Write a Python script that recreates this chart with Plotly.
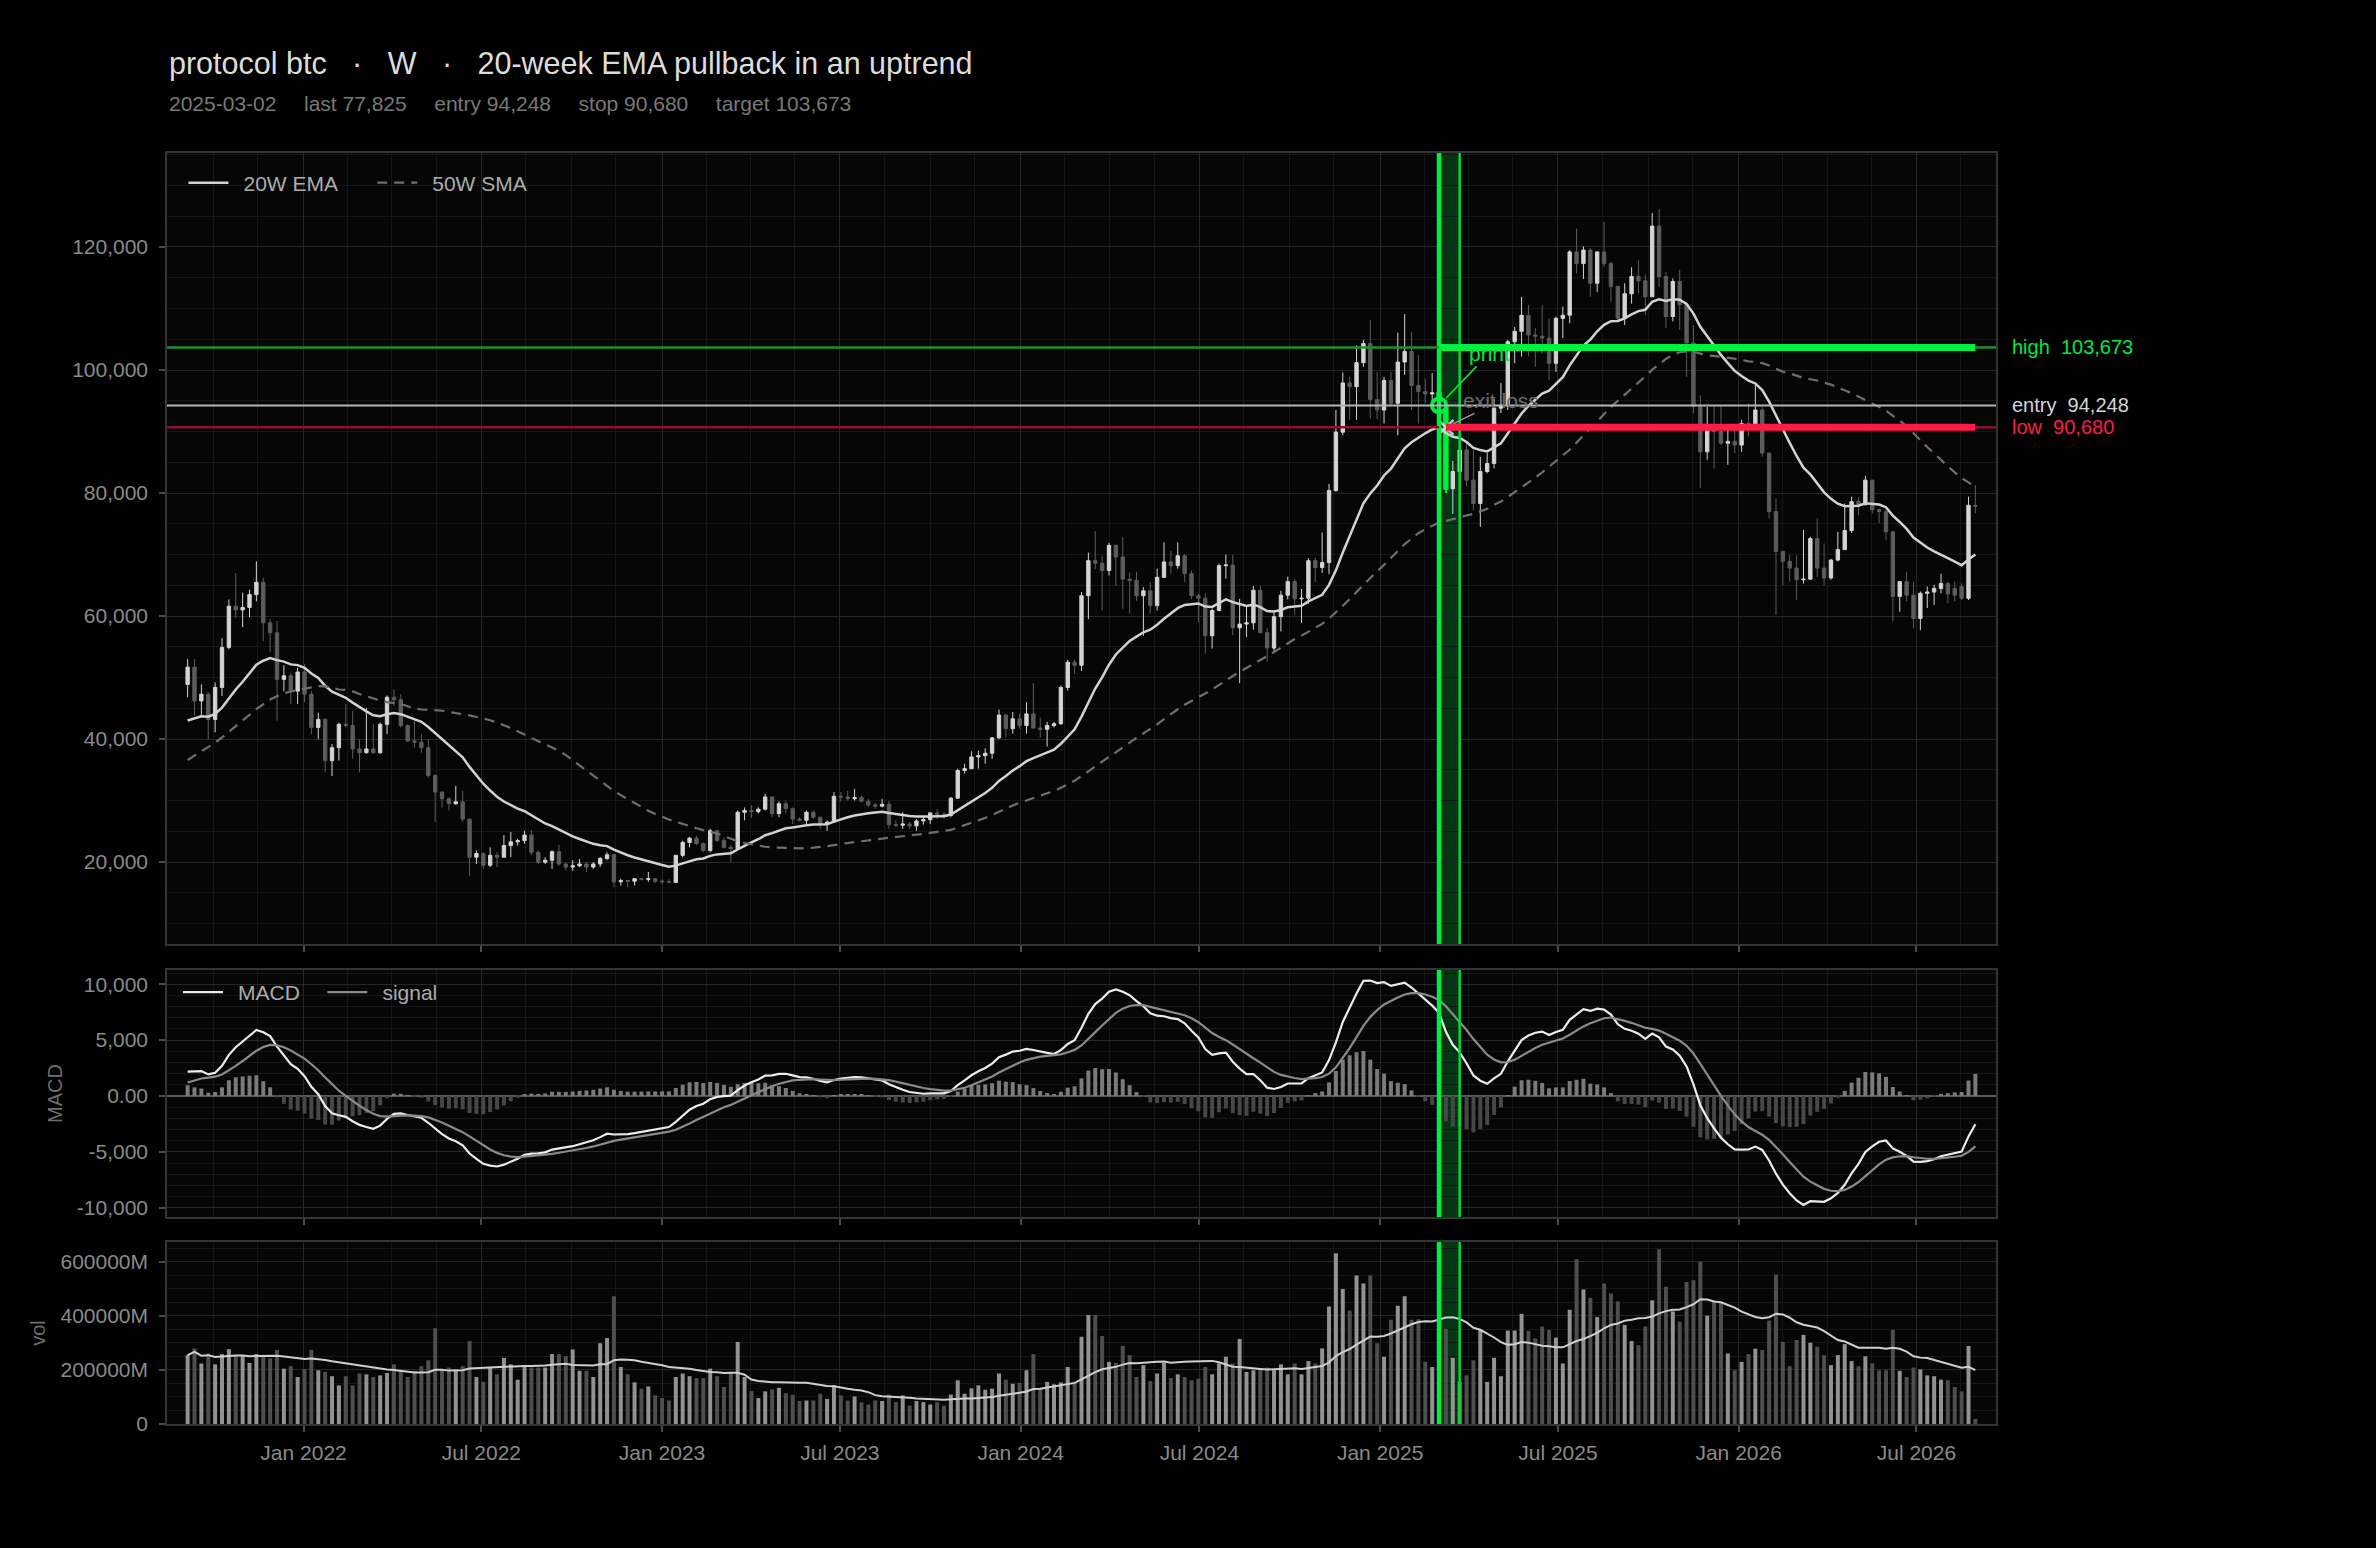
import numpy as np
import pandas as pd
import plotly.graph_objects as go

FONT = "Liberation Sans, Arial, Helvetica, sans-serif"

# ------------------------------------------------------------------ data
# weekly candles, each labelled by the Sunday that closes the week (prices in thousands USD)
FIRST_WEEK = "2021-09-05"

open_k = [
    48.9, 51.7, 46.2, 47.3, 43.2, 48.4, 54.9, 61.6, 61.0, 61.4,
    63.5, 65.5, 58.9, 57.3, 49.7, 50.3, 47.8, 50.9, 47.3, 41.9,
    43.2, 36.5, 38.6, 42.4, 42.2, 38.4, 37.8, 38.4, 37.8, 42.4,
    46.8, 46.4, 42.2, 39.7, 39.5, 38.6, 34.1, 31.4, 30.3, 29.5,
    29.8, 27.0, 20.8, 21.4, 19.5, 21.1, 20.8, 22.7, 23.3, 23.5,
    24.4, 21.6, 20.0, 20.3, 21.7, 19.7, 19.2, 19.4, 19.7, 19.2,
    19.7, 20.6, 21.2, 16.8, 17.0, 16.9, 17.3, 17.2, 17.3, 16.9,
    16.8, 16.7, 21.1, 23.2, 23.9, 23.0, 21.9, 25.1, 23.5, 22.4,
    22.2, 28.1, 28.4, 28.2, 28.6, 30.6, 27.9, 29.5, 28.7, 27.0,
    26.8, 28.1, 27.3, 26.2, 26.5, 30.7, 30.6, 30.3, 30.5, 29.9,
    29.3, 29.1, 29.4, 26.1, 26.0, 26.2, 25.9, 26.7, 26.9, 28.0,
    27.8, 27.6, 30.4, 34.9, 35.2, 37.1, 37.3, 37.7, 40.2, 43.9,
    41.7, 43.3, 42.2, 44.1, 41.8, 41.6, 42.2, 42.5, 48.4, 52.5,
    52.0, 63.3, 69.0, 68.6, 67.4, 71.5, 69.6, 66.0, 65.8, 63.3,
    64.1, 61.7, 66.3, 68.8, 68.2, 69.8, 66.9, 63.3, 62.9, 56.8,
    60.9, 68.2, 68.3, 58.1, 58.7, 58.9, 64.2, 57.3, 54.8, 59.9,
    63.4, 65.6, 62.8, 62.9, 69.0, 67.9, 68.7, 80.4, 89.9, 97.9,
    97.3, 101.2, 104.3, 95.2, 93.5, 98.3, 94.6, 101.3, 103.0, 97.5,
    96.5, 96.1, 96.3, 94.2, 80.7, 83.5, 87.0, 82.1, 78.3, 83.5,
    84.8, 93.8, 94.3, 104.6, 106.3, 108.9, 105.7, 105.5, 105.2, 101.1,
    108.4, 108.9, 119.2, 117.3, 119.5, 114.1, 119.2, 117.3, 113.6, 108.4,
    112.4, 115.2, 114.5, 111.9, 123.4, 115.2, 108.7, 114.4, 110.6, 104.4,
    94.1, 86.7, 90.3, 90.0, 88.1, 88.4, 87.8, 91.3, 91.0, 93.5,
    86.5, 77.0, 70.5, 68.9, 67.8, 65.9, 66.0, 72.6, 67.8, 66.2,
    69.1, 70.8, 73.9, 78.6, 78.1, 82.1, 77.3, 77.0, 73.7, 63.2,
    65.6, 63.4, 59.6, 63.7, 63.9, 64.5, 65.3, 64.5, 64.8, 62.9,
    78.0,
]
high_k = [
    53.0, 53.0, 48.9, 47.6, 49.2, 56.4, 62.7, 67.0, 63.8, 64.3,
    68.9, 66.2, 59.5, 59.2, 52.0, 50.8, 51.6, 52.2, 47.8, 44.3,
    43.4, 39.2, 42.7, 45.7, 44.6, 40.0, 45.1, 42.4, 42.7, 47.1,
    48.1, 47.3, 42.4, 43.0, 40.8, 40.0, 34.3, 31.5, 30.5, 32.4,
    31.6, 27.0, 21.9, 21.6, 22.4, 21.6, 24.4, 24.9, 23.8, 25.1,
    25.2, 21.9, 20.8, 21.9, 22.8, 19.8, 20.3, 20.5, 20.0, 20.0,
    20.8, 21.6, 21.3, 17.3, 17.1, 17.3, 17.4, 18.4, 17.4, 17.2,
    17.2, 21.2, 23.5, 24.1, 24.3, 23.2, 25.4, 25.2, 24.0, 22.8,
    28.4, 28.9, 29.2, 28.9, 31.1, 30.6, 29.9, 30.0, 28.9, 27.3,
    28.4, 28.4, 27.3, 26.8, 31.4, 31.4, 31.6, 31.9, 30.8, 30.3,
    29.6, 30.3, 29.9, 26.8, 28.1, 26.5, 27.0, 27.3, 28.1, 28.6,
    28.1, 30.6, 35.2, 36.0, 38.0, 38.1, 38.5, 40.3, 44.8, 44.1,
    44.4, 44.1, 46.0, 49.1, 43.5, 42.8, 42.8, 48.7, 52.9, 52.9,
    63.9, 70.3, 73.8, 69.8, 71.9, 71.6, 72.8, 67.1, 67.2, 64.7,
    65.5, 67.7, 72.0, 70.6, 72.0, 70.1, 67.4, 63.6, 63.7, 61.2,
    68.5, 70.0, 70.0, 62.8, 61.7, 64.9, 64.9, 58.1, 60.6, 64.1,
    66.4, 66.0, 64.4, 69.4, 69.5, 73.6, 81.5, 93.5, 99.6, 98.9,
    104.0, 104.9, 108.1, 99.7, 98.9, 99.7, 106.1, 109.1, 106.2, 102.4,
    98.6, 99.5, 96.5, 95.1, 85.2, 88.1, 88.1, 87.0, 85.9, 86.5,
    95.3, 97.9, 104.9, 107.0, 111.9, 110.6, 106.8, 110.5, 108.4, 108.7,
    110.3, 119.5, 123.0, 120.1, 119.8, 119.3, 124.1, 117.6, 113.6, 114.1,
    116.7, 117.9, 115.5, 125.5, 126.2, 115.9, 114.9, 116.3, 111.1, 107.3,
    95.9, 94.0, 94.2, 94.3, 90.3, 90.3, 91.9, 94.6, 97.8, 94.0,
    86.5, 79.1, 70.5, 69.9, 69.9, 74.0, 72.9, 75.9, 71.8, 69.3,
    73.7, 78.3, 79.4, 79.4, 82.8, 82.1, 77.5, 77.3, 73.7, 65.6,
    67.2, 65.6, 64.0, 64.8, 65.1, 66.9, 65.6, 65.6, 65.3, 79.4,
    81.3,
]
low_k = [
    46.8, 43.8, 43.8, 40.0, 41.1, 47.0, 54.6, 59.7, 58.2, 59.8,
    62.4, 55.9, 54.1, 43.0, 47.8, 45.7, 45.7, 46.0, 40.8, 40.0,
    34.6, 34.0, 36.5, 41.9, 36.8, 34.6, 37.6, 37.6, 37.6, 40.8,
    45.4, 41.9, 39.5, 38.6, 37.8, 33.7, 26.5, 28.9, 28.4, 29.3,
    26.6, 17.8, 19.7, 18.9, 19.2, 19.2, 20.8, 20.8, 22.7, 23.0,
    21.1, 19.7, 19.7, 18.9, 19.4, 18.6, 18.6, 19.2, 18.4, 18.9,
    19.2, 20.3, 15.9, 16.2, 15.9, 16.2, 17.0, 16.8, 16.6, 16.5,
    16.6, 16.7, 20.8, 22.4, 22.8, 21.6, 21.6, 23.3, 22.2, 20.0,
    22.0, 26.8, 27.2, 27.9, 28.4, 27.3, 27.3, 27.9, 26.2, 26.6,
    26.2, 27.0, 25.4, 25.1, 26.5, 29.8, 30.0, 30.0, 29.7, 29.0,
    28.7, 28.9, 25.4, 25.7, 25.4, 25.4, 25.1, 26.1, 26.2, 27.0,
    27.0, 27.3, 30.3, 34.4, 35.1, 35.2, 36.0, 36.8, 40.0, 40.3,
    40.9, 41.7, 40.9, 41.7, 40.3, 38.8, 41.9, 42.3, 47.9, 50.6,
    51.1, 59.5, 67.6, 60.9, 66.6, 64.9, 61.2, 60.4, 62.5, 56.8,
    60.4, 60.9, 66.3, 66.9, 67.7, 65.5, 62.8, 59.0, 53.9, 54.7,
    60.8, 66.1, 56.9, 49.1, 56.6, 57.8, 57.2, 52.6, 54.0, 57.5,
    62.7, 60.2, 58.9, 62.0, 65.5, 67.0, 66.8, 80.2, 89.4, 91.9,
    91.9, 100.5, 92.1, 92.0, 91.3, 94.1, 89.4, 99.2, 93.5, 91.3,
    94.6, 94.0, 78.2, 80.0, 76.6, 81.0, 81.1, 77.2, 74.5, 83.2,
    84.0, 93.0, 93.5, 101.1, 102.2, 102.2, 100.5, 102.7, 98.4, 99.7,
    105.2, 107.6, 115.7, 114.8, 111.9, 112.7, 116.8, 111.1, 107.9, 107.3,
    110.8, 112.5, 108.9, 111.9, 113.5, 106.8, 107.9, 106.5, 98.9, 93.0,
    80.8, 85.4, 84.0, 87.8, 84.6, 86.5, 86.7, 89.2, 90.3, 85.9,
    75.9, 60.2, 65.0, 65.6, 62.6, 65.3, 65.9, 66.4, 65.0, 65.9,
    68.9, 70.8, 73.5, 76.4, 78.0, 76.7, 75.1, 72.4, 59.1, 60.7,
    62.4, 58.0, 57.7, 61.3, 61.8, 63.7, 62.1, 62.4, 62.6, 62.6,
    76.7,
]
close_k = [
    51.7, 46.2, 47.3, 43.2, 48.4, 54.9, 61.6, 61.0, 61.4, 63.5,
    65.5, 58.9, 57.3, 49.7, 50.3, 47.8, 50.9, 47.3, 41.9, 43.2,
    36.5, 38.6, 42.4, 42.2, 38.4, 37.8, 38.4, 37.8, 42.4, 46.8,
    46.4, 42.2, 39.7, 39.5, 38.6, 34.1, 31.4, 30.3, 29.5, 29.8,
    27.0, 20.8, 21.4, 19.5, 21.1, 20.8, 22.7, 23.3, 23.5, 24.4,
    21.6, 20.0, 20.3, 21.7, 19.7, 19.2, 19.4, 19.7, 19.2, 19.7,
    20.6, 21.2, 16.8, 17.0, 16.9, 17.3, 17.2, 17.3, 16.9, 16.8,
    16.7, 21.1, 23.2, 23.9, 23.0, 21.9, 25.1, 23.5, 22.4, 22.2,
    28.1, 28.4, 28.2, 28.6, 30.6, 27.9, 29.5, 28.7, 27.0, 26.8,
    28.1, 27.3, 26.2, 26.5, 30.7, 30.6, 30.3, 30.5, 29.9, 29.3,
    29.1, 29.4, 26.1, 26.0, 26.2, 25.9, 26.7, 26.9, 28.0, 27.8,
    27.6, 30.4, 34.9, 35.2, 37.1, 37.3, 37.7, 40.2, 43.9, 41.7,
    43.3, 42.2, 44.1, 41.8, 41.6, 42.2, 42.5, 48.4, 52.5, 52.0,
    63.3, 69.0, 68.6, 67.4, 71.5, 69.6, 66.0, 65.8, 63.3, 64.1,
    61.7, 66.3, 68.8, 68.2, 69.8, 66.9, 63.3, 62.9, 56.8, 60.9,
    68.2, 68.3, 58.1, 58.7, 58.9, 64.2, 57.3, 54.8, 59.9, 63.4,
    65.6, 62.8, 62.9, 69.0, 67.9, 68.7, 80.4, 89.9, 97.9, 97.3,
    101.2, 104.3, 95.2, 93.5, 98.3, 94.6, 101.3, 103.0, 97.5, 96.5,
    96.1, 96.3, 94.248, 80.7, 83.5, 87.0, 82.1, 78.3, 83.5, 84.8,
    93.8, 94.3, 104.6, 106.3, 108.9, 105.7, 105.5, 105.2, 101.1, 108.4,
    108.9, 119.2, 117.3, 119.5, 114.1, 119.2, 117.3, 113.6, 108.4, 112.4,
    115.2, 114.5, 111.9, 123.4, 115.2, 108.7, 114.4, 110.6, 104.4, 94.1,
    86.7, 90.3, 90.0, 88.1, 88.4, 87.8, 91.3, 91.0, 93.5, 86.5,
    77.0, 70.5, 68.9, 67.8, 65.9, 66.0, 72.6, 67.8, 66.2, 69.1,
    70.8, 73.9, 78.6, 78.1, 82.1, 77.3, 77.0, 73.7, 63.2, 65.6,
    63.4, 59.6, 63.7, 63.9, 64.5, 65.3, 63.6, 63.4, 62.9, 78.0,
    77.825,
]
# weekly volume, billions USD
volume_bn = [
    255, 280, 224, 261, 221, 259, 277, 255, 255, 226,
    259, 251, 243, 274, 205, 214, 174, 203, 274, 199,
    193, 177, 143, 177, 143, 187, 184, 174, 180, 189,
    221, 199, 174, 197, 214, 236, 355, 202, 209, 202,
    214, 307, 174, 156, 209, 184, 245, 221, 164, 218,
    209, 209, 209, 259, 259, 251, 276, 197, 197, 174,
    299, 318, 473, 211, 184, 154, 131, 139, 106, 96,
    87, 174, 187, 177, 170, 170, 205, 177, 137, 193,
    304, 174, 122, 96, 121, 128, 134, 114, 108, 85,
    87, 87, 112, 93, 143, 106, 87, 102, 80, 72,
    87, 85, 109, 81, 106, 68, 85, 81, 72, 81,
    68, 109, 162, 112, 132, 143, 127, 131, 187, 164,
    149, 152, 199, 259, 131, 156, 147, 154, 211, 154,
    323, 404, 404, 326, 230, 226, 289, 255, 174, 218,
    159, 187, 226, 170, 184, 174, 162, 168, 211, 184,
    224, 249, 224, 315, 193, 199, 205, 209, 199, 221,
    184, 224, 184, 233, 224, 280, 435, 632, 500, 420,
    550, 520, 550, 299, 249, 386, 438, 473, 386, 388,
    230, 211, 360, 352, 245, 156, 180, 236, 348, 156,
    245, 177, 346, 346, 408, 345, 317, 361, 348, 320,
    224, 423, 610, 498, 467, 396, 520, 483, 454, 367,
    307, 292, 361, 458, 647, 508, 417, 379, 526, 532,
    601, 401, 454, 448, 261, 199, 230, 259, 279, 274,
    383, 554, 304, 214, 311, 330, 301, 286, 255, 218,
    255, 296, 233, 214, 251, 224, 199, 199, 348, 197,
    174, 209, 202, 180, 177, 164, 162, 137, 121, 289,
    19,
]
# closes of the 52 weeks before the visible window (thousands USD); they only seed the
# moving averages / MACD so the indicator lines start where the reference's start
warmup_close_k = [
    10.3, 10.7, 10.9, 10.8, 10.7, 11.4, 11.5, 13.0, 13.7, 15.5,
    16.0, 18.4, 18.2, 19.1, 19.2, 23.5, 26.3, 33.0, 38.2, 35.8,
    32.3, 33.1, 39.3, 48.6, 57.5, 45.2, 51.0, 59.3, 57.4, 55.8,
    57.6, 59.8, 56.2, 49.1, 56.6, 58.2, 46.4, 34.7, 35.7, 35.8,
    39.1, 35.5, 34.7, 35.3, 34.2, 31.8, 35.4, 39.9, 43.8, 47.0,
    49.3, 48.9,
]

ENTRY_DATE = "2025-03-02"
EXIT_DATE = "2025-03-09"
WINDOW_END = "2025-03-23"
ENTRY = 94248
STOP = 90680
TARGET = 103673
LAST = 77825

price_ticks = [20000, 40000, 60000, 80000, 100000, 120000]
macd_ticks = [-10000, -5000, 0, 5000, 10000]
macd_tick_text = ["-10,000", "-5,000", "0.00", "5,000", "10,000"]
vol_ticks = [0, 200, 400, 600]
vol_tick_text = ["0", "200000M", "400000M", "600000M"]

# ------------------------------------------------------------------ derived series
dates = pd.date_range(FIRST_WEEK, periods=len(close_k), freq="W-SUN")
o = np.array(open_k) * 1000
h = np.array(high_k) * 1000
l = np.array(low_k) * 1000
c = np.array(close_k) * 1000

full = pd.Series(warmup_close_k + close_k, dtype=float) * 1000
nw = len(warmup_close_k)
ema20 = full.ewm(span=20, adjust=False).mean().iloc[nw:].values
sma50 = full.rolling(50).mean().iloc[nw:].values
macd_full = full.ewm(span=12, adjust=False).mean() - full.ewm(span=26, adjust=False).mean()
signal_full = macd_full.ewm(span=9, adjust=False).mean()
macd = macd_full.iloc[nw:].values
signal = signal_full.iloc[nw:].values
hist = macd - signal
vol_ma = pd.Series(volume_bn, dtype=float).rolling(20, min_periods=1).mean().values

# ------------------------------------------------------------------ style
BG = "#000000"
PLOT_BG = "#060606"
GRID = "#262626"
GRID_MINOR = "#161616"
FRAME = "#343434"
TICKC = "#8a8a8a"
GREEN = "#00f040"
GREEN_DIM = "#1c8f36"
RED = "#ff1a48"
RED_DIM = "#8e1030"
X0, X1 = "2021-08-15", "2026-09-20"
NB = "&nbsp;"
THIN = "\u2009"

minor_x = []
for yr in range(2021, 2027):
    for md in ["01-01", "02-15", "04-01", "05-16", "07-01", "08-15", "10-01", "11-15"]:
        minor_x.append(f"{yr}-{md}")

fig = go.Figure()

# ---- price panel
fig.add_trace(go.Candlestick(
    x=dates, open=o, high=h, low=l, close=c, xaxis="x", yaxis="y",
    increasing=dict(line=dict(color="#d4d4d4", width=1), fillcolor="#d4d4d4"),
    decreasing=dict(line=dict(color="#5c5c5c", width=1), fillcolor="#5c5c5c"),
    whiskerwidth=0, showlegend=False, hoverinfo="skip"))

hi_idx = [dates.get_loc(pd.Timestamp(ENTRY_DATE)), dates.get_loc(pd.Timestamp(EXIT_DATE))]
fig.add_trace(go.Candlestick(
    x=dates[hi_idx], open=o[hi_idx], high=h[hi_idx], low=l[hi_idx], close=c[hi_idx],
    xaxis="x", yaxis="y",
    increasing=dict(line=dict(color=GREEN, width=2), fillcolor=GREEN),
    decreasing=dict(line=dict(color=GREEN, width=2), fillcolor=GREEN),
    whiskerwidth=0, showlegend=False, hoverinfo="skip"))

fig.add_trace(go.Scatter(x=dates, y=ema20, mode="lines", name=NB + THIN + "20W EMA" + NB * 5,
                         line=dict(color="#d2d2d2", width=2.5), xaxis="x", yaxis="y",
                         legend="legend"))
fig.add_trace(go.Scatter(x=dates, y=sma50, mode="lines", name=NB + THIN + "50W SMA",
                         line=dict(color="#6e6e6e", width=2.2, dash="10px,7px"),
                         xaxis="x", yaxis="y", legend="legend"))

fig.add_trace(go.Scatter(x=[pd.Timestamp(ENTRY_DATE)], y=[ENTRY], mode="markers",
                         marker=dict(symbol="circle", size=14, color="#000000",
                                     line=dict(color=GREEN, width=4)),
                         xaxis="x", yaxis="y", showlegend=False, hoverinfo="skip"))
fig.add_trace(go.Scatter(x=[pd.Timestamp(EXIT_DATE)], y=[STOP], mode="markers",
                         marker=dict(symbol="x-thin", size=15,
                                     line=dict(color="rgba(225,225,225,0.85)", width=2.5)),
                         xaxis="x", yaxis="y", showlegend=False, hoverinfo="skip"))

# ---- MACD panel
fig.add_trace(go.Bar(x=dates, y=hist, xaxis="x2", yaxis="y2",
                     marker=dict(color=["#7a7a7a" if v >= 0 else "#474747" for v in hist],
                                 line=dict(width=0)),
                     showlegend=False, hoverinfo="skip"))
fig.add_trace(go.Scatter(x=dates, y=macd, mode="lines", name=NB + THIN + "MACD" + NB * 3,
                         line=dict(color="#ececec", width=2.2), xaxis="x2", yaxis="y2",
                         legend="legend2"))
fig.add_trace(go.Scatter(x=dates, y=signal, mode="lines", name=NB + THIN + "signal",
                         line=dict(color="#8a8a8a", width=2.2), xaxis="x2", yaxis="y2",
                         legend="legend2"))

# ---- volume panel
vol_colors = ["#929292" if cc >= oo else "#4e4e4e" for oo, cc in zip(o, c)]
fig.add_trace(go.Bar(x=dates, y=volume_bn, xaxis="x3", yaxis="y3",
                     marker=dict(color=vol_colors, line=dict(width=0)),
                     showlegend=False, hoverinfo="skip"))
fig.add_trace(go.Scatter(x=dates, y=vol_ma, mode="lines", line=dict(color="#cfcfcf", width=2),
                         xaxis="x3", yaxis="y3", showlegend=False, hoverinfo="skip"))

# ------------------------------------------------------------------ shapes
shapes = []
for xr, yd in [("x", "y domain"), ("x2", "y2 domain"), ("x3", "y3 domain")]:
    shapes.append(dict(type="rect", xref=xr, yref=yd, x0=ENTRY_DATE, x1=WINDOW_END, y0=0, y1=1,
                       fillcolor="rgba(0,230,60,0.22)", line=dict(width=0), layer="below"))
    shapes.append(dict(type="line", xref=xr, yref=yd, x0=ENTRY_DATE, x1=ENTRY_DATE, y0=0, y1=1,
                       line=dict(color=GREEN, width=4.5)))
    shapes.append(dict(type="line", xref=xr, yref=yd, x0=WINDOW_END, x1=WINDOW_END, y0=0, y1=1,
                       line=dict(color="#00d83a", width=2.5)))

last_date = dates[-1]


def hline(x0, x1, y, color, width):
    shapes.append(dict(type="line", xref="x", yref="y", x0=x0, x1=x1, y0=y, y1=y,
                       line=dict(color=color, width=width)))


hline(X0, X1, ENTRY, "#b4b4b4", 2)
hline(X0, ENTRY_DATE, TARGET, GREEN_DIM, 2.5)
hline(ENTRY_DATE, last_date, TARGET, GREEN, 7)
hline(last_date, X1, TARGET, GREEN_DIM, 2.5)
hline(X0, ENTRY_DATE, STOP, RED_DIM, 2.5)
hline(EXIT_DATE, last_date, STOP, RED, 7)
hline(last_date, X1, STOP, RED_DIM, 2.5)

# ------------------------------------------------------------------ annotations
GAP = NB * 4 + THIN
annotations = [
    dict(xref="paper", yref="paper", x=0, y=1.0708, xanchor="left", yanchor="middle",
         text=f"protocol btc{NB*2} ·{NB*2} W{NB*2} ·{NB*2} 20-week EMA pullback in an uptrend",
         showarrow=False, font=dict(size=30.5, color="#dcdcdc", family=FONT)),
    dict(xref="paper", yref="paper", x=0, y=1.0393, xanchor="left", yanchor="middle",
         text=(f"2025-03-02{GAP}last {LAST:,}{GAP}entry {ENTRY:,}{GAP}"
               f"stop {STOP:,}{GAP}target {TARGET:,}"),
         showarrow=False, font=dict(size=21, color="#787878", family=FONT)),
    dict(xref="paper", yref="y", x=1.0075, y=TARGET, xanchor="left", yanchor="middle",
         text=f"high{NB*2}{TARGET:,}", showarrow=False, font=dict(size=20, color="#00e83e")),
    dict(xref="paper", yref="y", x=1.0075, y=ENTRY, xanchor="left", yanchor="middle",
         text=f"entry{NB*2}{ENTRY:,}", showarrow=False, font=dict(size=20, color="#d4d4d4")),
    dict(xref="paper", yref="y", x=1.0075, y=STOP, xanchor="left", yanchor="middle",
         text=f"low{NB*2}{STOP:,}", showarrow=False, font=dict(size=20, color=RED)),
    dict(xref="x", yref="y", x=ENTRY_DATE, y=ENTRY, text="print", showarrow=True,
         arrowhead=0, arrowwidth=1.6, arrowcolor="#00e83e", ax=50, ay=-52, standoff=10,
         font=dict(size=21, color="#00e83e")),
    dict(xref="x", yref="y", x=EXIT_DATE, y=STOP, text="exit loss", showarrow=True,
         arrowhead=0, arrowwidth=1.5, arrowcolor="#9a9a9a", ax=55, ay=-27, standoff=8,
         font=dict(size=21, color="#6c6c6c")),
]


# ------------------------------------------------------------------ axes
def xaxis(show_labels, anchor, matches=None):
    d = dict(type="date", range=[X0, X1], anchor=anchor, domain=[0, 1],
             showgrid=True, gridcolor=GRID, gridwidth=1,
             tick0="2022-01-01", dtick="M6", tickformat="%b %Y",
             ticks="outside", ticklen=6, tickcolor="#4a4a4a", tickwidth=1.5,
             showticklabels=show_labels, tickfont=dict(size=21, color=TICKC),
             ticklabelstandoff=3,
             showline=True, mirror=True, linecolor=FRAME, linewidth=1.5, zeroline=False,
             minor=dict(tickmode="array", tickvals=minor_x, showgrid=True,
                        gridcolor=GRID_MINOR, gridwidth=1, ticks=""),
             rangeslider=dict(visible=False))
    if matches:
        d["matches"] = matches
    return d


def yaxis(domain, rng, tickvals, ticktext, minor_dtick, anchor, title=None, zeroline=False):
    d = dict(domain=domain, range=rng, anchor=anchor, tickmode="array", tickvals=tickvals,
             ticktext=ticktext, showgrid=True, gridcolor=GRID, gridwidth=1,
             ticks="outside", ticklen=6, tickcolor="#4a4a4a", tickwidth=1.5,
             tickfont=dict(size=21, color=TICKC), ticklabelstandoff=7,
             showline=True, mirror=True, linecolor=FRAME, linewidth=1.5,
             zeroline=zeroline, zerolinecolor="#5a5a5a", zerolinewidth=1.5,
             minor=dict(dtick=minor_dtick, showgrid=True, gridcolor=GRID_MINOR, gridwidth=1,
                        ticks=""))
    if title:
        d["title"] = dict(text=title, font=dict(size=20, color="#6e6e6e"), standoff=9)
    return d


price_text = [f"{v:,}" for v in price_ticks]

fig.update_layout(
    width=2376, height=1548, autosize=False,
    margin=dict(l=167, r=380, t=153, b=124),
    paper_bgcolor=BG, plot_bgcolor=PLOT_BG,
    font=dict(family=FONT, color=TICKC),
    bargap=0.42,
    xaxis=xaxis(False, "y"),
    xaxis2=xaxis(False, "y2", "x"),
    xaxis3=xaxis(True, "y3", "x"),
    yaxis=yaxis([0.3777, 1.0], [6700, 135280], price_ticks, price_text, 5000, "x"),
    yaxis2=yaxis([0.1629, 0.3572], [-10830, 11280], macd_ticks, macd_tick_text, 1000, "x2",
                 title="MACD", zeroline=True),
    yaxis3=yaxis([0.0, 0.1432], [0, 674], vol_ticks, vol_tick_text, 50, "x3", title="vol"),
    legend=dict(x=0.009, y=0.9764, xanchor="left", yanchor="middle", orientation="h",
                bgcolor="rgba(0,0,0,0)", font=dict(size=21, color="#acacac"),
                itemwidth=40, tracegroupgap=0),
    legend2=dict(x=0.006, y=0.3395, xanchor="left", yanchor="middle", orientation="h",
                 bgcolor="rgba(0,0,0,0)", font=dict(size=21, color="#acacac"),
                 itemwidth=40),
    shapes=shapes,
    annotations=annotations,
    hovermode=False,
)

fig.write_html(
    "out.html",
    config={"displayModeBar": False},
    post_script=("document.body.style.margin='0px';document.body.style.padding='0px';"
                 "document.body.style.background='#000';"
                 "document.documentElement.style.background='#000';"),
)
